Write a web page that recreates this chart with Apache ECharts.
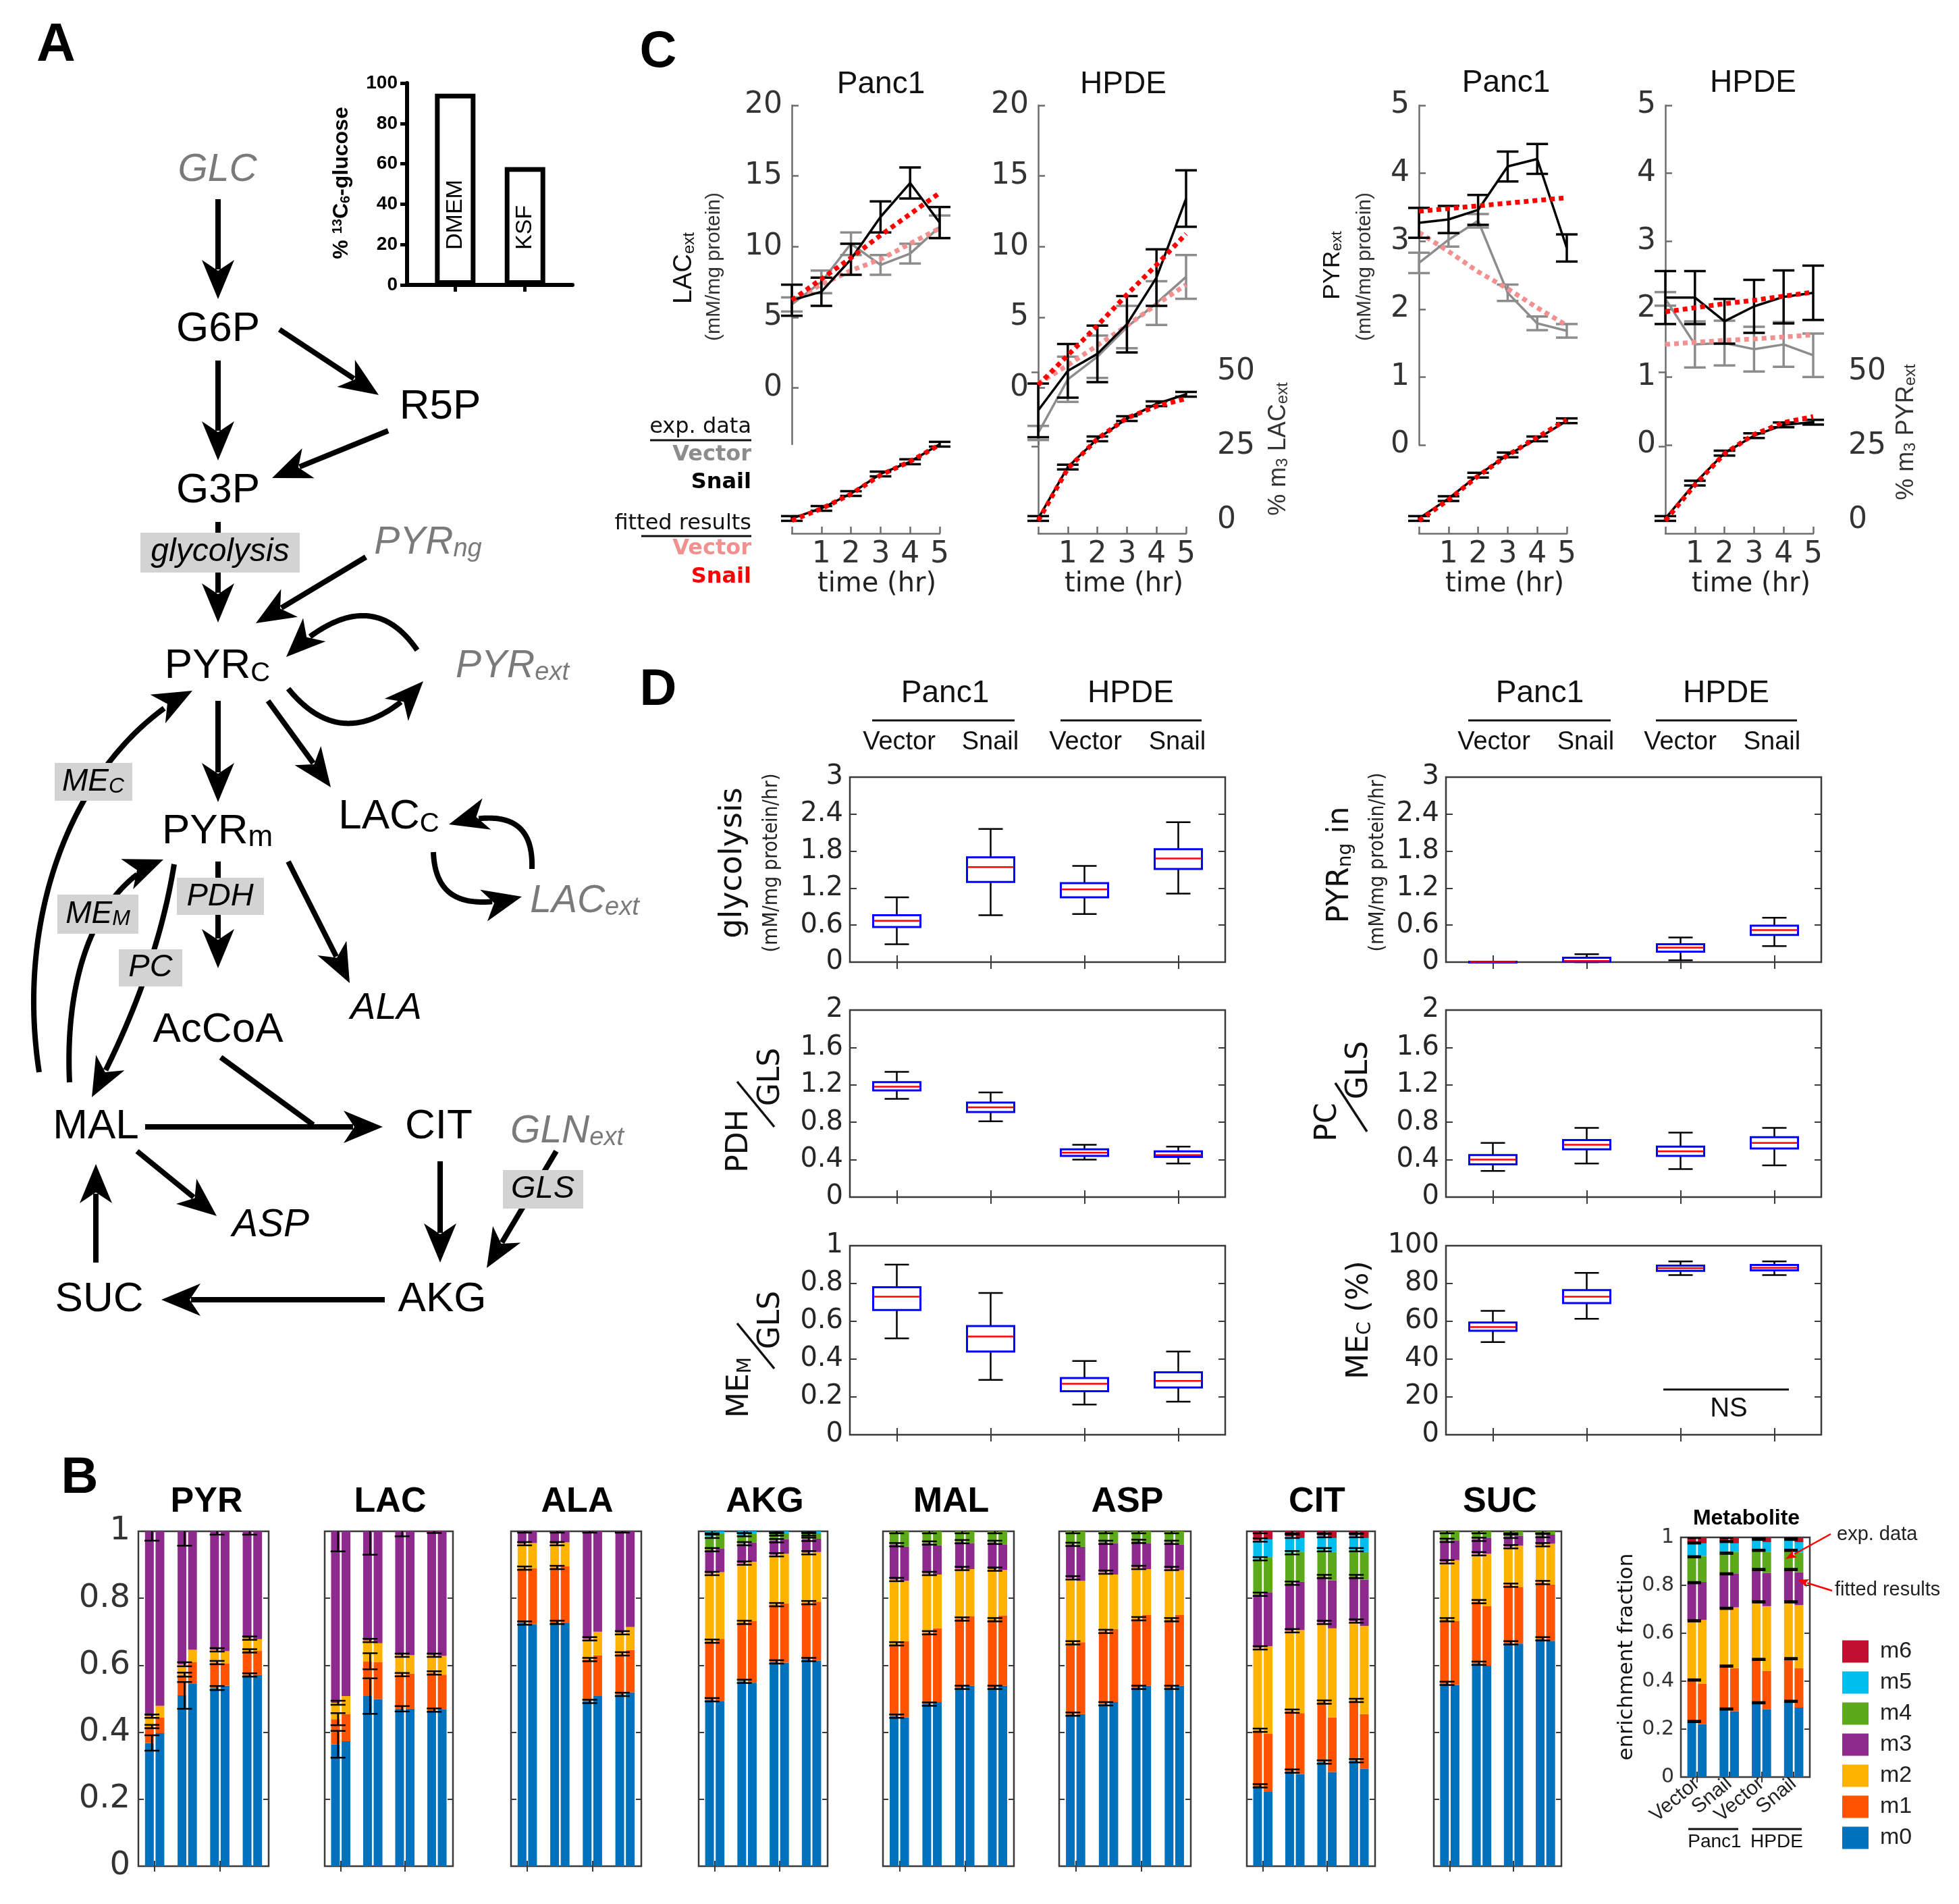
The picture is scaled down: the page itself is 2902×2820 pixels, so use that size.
<!DOCTYPE html>
<html><head><meta charset="utf-8">
<script src="https://cdn.jsdelivr.net/npm/echarts@6/dist/echarts.min.js"></script>
<style>html,body{margin:0;padding:0;background:#fff;overflow:hidden}#c{width:2902px;height:2820px}</style>
</head><body><div id="c"></div>
<script>
// ================= DATA =================
const glucoseMedia = ['DMEM', 'KSF'];
const glucoseLabeled = [94.7, 58.4];

const timeHr = [0, 1, 2, 3, 4, 5];
// Extracellular lactate (mM/mg protein)
const lacPanc1Vector = [5.9, 7.5, 10.2, 8.7, 9.5, 11.4];
const lacPanc1VectorErr = [0.5, 0.8, 0.8, 0.7, 0.7, 0.8];
const lacPanc1Snail = [6.2, 6.8, 9.1, 12.1, 14.5, 11.7];
const lacPanc1SnailErr = [1.1, 1.0, 1.1, 1.1, 1.1, 1.1];
const lacPanc1VectorFit = [6.2, 7.3, 8.3, 9.1, 10.2, 11.3];
const lacPanc1SnailFit = [6.2, 7.7, 9.2, 10.8, 12.3, 13.8];
const lacHpdeVector = [-3.2, 0.6, 2.2, 4.3, 6.0, 7.85];
const lacHpdeVectorErr = [0.5, 1.6, 1.5, 1.5, 1.55, 1.55];
const lacHpdeSnail = [-1.6, 1.2, 2.4, 4.5, 7.8, 13.4];
const lacHpdeSnailErr = [1.9, 1.9, 2.0, 2.0, 2.0, 2.0];
const lacHpdeVectorFit = [0.3, 1.6, 3.0, 4.4, 5.9, 7.3];
const lacHpdeSnailFit = [0.2, 2.3, 4.4, 6.6, 8.7, 10.9];
// Extracellular pyruvate
const pyrPanc1Vector = [2.68, 3.02, 3.30, 2.24, 1.79, 1.68];
const pyrPanc1VectorErr = [0.15, 0.10, 0.10, 0.12, 0.10, 0.10];
const pyrPanc1Snail = [3.27, 3.32, 3.46, 4.10, 4.21, 2.90];
const pyrPanc1SnailErr = [0.22, 0.20, 0.22, 0.22, 0.22, 0.20];
const pyrPanc1VectorFit = [3.13, 2.85, 2.55, 2.30, 2.02, 1.76];
const pyrPanc1SnailFit = [3.44, 3.48, 3.52, 3.56, 3.60, 3.64];
const pyrHpdeVector = [2.15, 1.48, 1.50, 1.41, 1.48, 1.32];
const pyrHpdeVectorErr = [0.10, 0.34, 0.33, 0.33, 0.33, 0.32];
const pyrHpdeSnail = [2.17, 2.17, 1.82, 2.04, 2.18, 2.24];
const pyrHpdeSnailErr = [0.39, 0.39, 0.33, 0.39, 0.39, 0.40];
const pyrHpdeVectorFit = [1.48, 1.51, 1.54, 1.56, 1.59, 1.62];
const pyrHpdeSnailFit = [1.96, 2.02, 2.08, 2.13, 2.19, 2.25];
// % m3 enrichment
const m3LacPanc1 = [0.7, 4.1, 9.1, 15.7, 19.8, 25.7];
const m3LacPanc1Fit = [0, 4.0, 8.9, 15.3, 19.9, 25.5];
const m3LacHpde = [0.7, 18.0, 27.5, 34.3, 39.3, 42.5];
const m3LacHpdeFit = [0, 17.5, 27.5, 34.5, 38.5, 41.0];
const m3PyrPanc1 = [0.7, 7.4, 15.3, 22.1, 27.5, 33.6];
const m3PyrPanc1Fit = [0, 7.0, 15.0, 22.0, 28.0, 34.0];
const m3PyrHpde = [0.7, 12.6, 22.7, 28.6, 32.2, 33.1];
const m3PyrHpdeFit = [0, 12.0, 22.5, 29.0, 33.0, 35.0];
const m3Err = [0.8, 0.8, 0.8, 0.8, 0.8, 0.8];

// Panel D flux distributions: [min, q1, median, q3, max]
const conditions = ['Panc1 Vector', 'Panc1 Snail', 'HPDE Vector', 'HPDE Snail'];
const glycolysisBox = [[0.29, 0.57, 0.67, 0.76, 1.05], [0.76, 1.30, 1.54, 1.70, 2.16], [0.78, 1.05, 1.18, 1.28, 1.56], [1.11, 1.51, 1.68, 1.83, 2.27]];
const pdhGlsBox = [[1.05, 1.14, 1.18, 1.23, 1.34], [0.81, 0.91, 0.96, 1.01, 1.12], [0.40, 0.44, 0.475, 0.51, 0.56], [0.36, 0.43, 0.45, 0.49, 0.54]];
const memGlsBox = [[0.51, 0.66, 0.73, 0.78, 0.90], [0.29, 0.44, 0.52, 0.575, 0.75], [0.16, 0.23, 0.27, 0.30, 0.39], [0.175, 0.25, 0.285, 0.33, 0.44]];
const pyrNgBox = [[0, 0, 0.002, 0.005, 0.008], [0, 0.005, 0.02, 0.07, 0.13], [0.03, 0.17, 0.235, 0.29, 0.40], [0.26, 0.44, 0.52, 0.59, 0.72]];
const pcGlsBox = [[0.28, 0.35, 0.40, 0.45, 0.58], [0.36, 0.51, 0.56, 0.61, 0.74], [0.30, 0.44, 0.49, 0.54, 0.69], [0.34, 0.52, 0.58, 0.64, 0.74]];
const meCBox = [[49, 55, 57, 59.4, 65.5], [61.3, 69.6, 73, 76.5, 85.6], [84.5, 86.7, 88.1, 89.5, 91.7], [84.5, 87, 88.3, 89.8, 91.7]];

// Panel B isotopologue fractions (rows: conditions, columns: m0..mN)
const isoNames = ['m0', 'm1', 'm2', 'm3', 'm4', 'm5', 'm6'];
const pyrExp = [[0.368, 0.049, 0.031, 0.552], [0.510, 0.062, 0.031, 0.397], [0.532, 0.076, 0.038, 0.354], [0.571, 0.072, 0.038, 0.319]];
const pyrFit = [[0.397, 0.047, 0.035, 0.521], [0.546, 0.064, 0.036, 0.354], [0.539, 0.066, 0.037, 0.358], [0.571, 0.072, 0.035, 0.322]];
const pyrErr = [[0.023, 0.005, 0.005, 0.028], [0.040, 0.006, 0.006, 0.043], [0.006, 0.005, 0.005, 0.010], [0.005, 0.005, 0.005, 0.010]];
const lacExp = [[0.364, 0.075, 0.049, 0.512], [0.508, 0.104, 0.062, 0.326], [0.470, 0.102, 0.058, 0.370], [0.466, 0.111, 0.053, 0.370]];
const lacFit = [[0.373, 0.081, 0.054, 0.492], [0.499, 0.111, 0.056, 0.334], [0.470, 0.105, 0.055, 0.370], [0.468, 0.104, 0.056, 0.372]];
const lacErr = [[0.040, 0.018, 0.006, 0.060], [0.053, 0.024, 0.005, 0.070], [0.008, 0.005, 0.005, 0.015], [0.005, 0.005, 0.005, 0.005]];
const alaExp = [[0.726, 0.164, 0.073, 0.037], [0.728, 0.164, 0.071, 0.037], [0.492, 0.125, 0.062, 0.321], [0.513, 0.121, 0.063, 0.303]];
const alaFit = [[0.723, 0.167, 0.075, 0.035], [0.726, 0.170, 0.071, 0.033], [0.508, 0.122, 0.070, 0.300], [0.519, 0.127, 0.068, 0.286]];
const alaErr = [[0.005, 0.005, 0.005, 0.004], [0.005, 0.005, 0.005, 0.004], [0.005, 0.005, 0.005, 0.004], [0.005, 0.005, 0.005, 0.004]];
const akgExp = [[0.497, 0.175, 0.202, 0.071, 0.040, 0.015], [0.552, 0.176, 0.177, 0.058, 0.027, 0.010], [0.610, 0.171, 0.149, 0.042, 0.020, 0.008], [0.617, 0.170, 0.149, 0.040, 0.016, 0.008]];
const akgFit = [[0.492, 0.187, 0.199, 0.071, 0.043, 0.008], [0.548, 0.184, 0.177, 0.058, 0.025, 0.008], [0.608, 0.177, 0.148, 0.043, 0.018, 0.006], [0.614, 0.176, 0.148, 0.040, 0.016, 0.006]];
const akgErr = [[0.005, 0.005, 0.005, 0.005, 0.005, 0.006], [0.005, 0.005, 0.005, 0.005, 0.005, 0.006], [0.005, 0.005, 0.005, 0.005, 0.005, 0.006], [0.005, 0.005, 0.005, 0.005, 0.005, 0.006]];
const malExp = [[0.448, 0.216, 0.192, 0.104, 0.040], [0.484, 0.213, 0.177, 0.091, 0.035], [0.534, 0.204, 0.151, 0.080, 0.031], [0.534, 0.202, 0.151, 0.080, 0.033]];
const malFit = [[0.444, 0.228, 0.180, 0.102, 0.046], [0.490, 0.220, 0.161, 0.087, 0.042], [0.539, 0.208, 0.140, 0.078, 0.035], [0.539, 0.210, 0.136, 0.076, 0.039]];
const malErr = [[0.005, 0.005, 0.005, 0.005, 0.006], [0.005, 0.005, 0.005, 0.005, 0.006], [0.005, 0.005, 0.005, 0.005, 0.006], [0.005, 0.005, 0.005, 0.005, 0.006]];
const aspExp = [[0.454, 0.213, 0.194, 0.100, 0.039], [0.485, 0.216, 0.177, 0.089, 0.033], [0.534, 0.205, 0.153, 0.078, 0.030], [0.534, 0.202, 0.153, 0.078, 0.033]];
const aspFit = [[0.454, 0.215, 0.183, 0.102, 0.046], [0.490, 0.218, 0.163, 0.094, 0.035], [0.539, 0.211, 0.137, 0.078, 0.035], [0.539, 0.211, 0.134, 0.076, 0.040]];
const aspErr = [[0.005, 0.005, 0.005, 0.005, 0.006], [0.005, 0.005, 0.005, 0.005, 0.006], [0.005, 0.005, 0.005, 0.005, 0.006], [0.005, 0.005, 0.005, 0.005, 0.006]];
const citExp = [[0.240, 0.166, 0.246, 0.160, 0.106, 0.056, 0.026], [0.284, 0.179, 0.240, 0.142, 0.091, 0.049, 0.015], [0.311, 0.179, 0.238, 0.137, 0.080, 0.042, 0.013], [0.315, 0.180, 0.237, 0.133, 0.080, 0.042, 0.013]];
const citFit = [[0.222, 0.173, 0.262, 0.161, 0.105, 0.053, 0.024], [0.275, 0.182, 0.248, 0.144, 0.090, 0.041, 0.020], [0.281, 0.163, 0.266, 0.144, 0.084, 0.042, 0.020], [0.291, 0.163, 0.263, 0.139, 0.082, 0.042, 0.020]];
const citErr = [[0.005, 0.005, 0.005, 0.005, 0.005, 0.005, 0.006], [0.005, 0.005, 0.005, 0.005, 0.005, 0.005, 0.006], [0.005, 0.005, 0.005, 0.005, 0.005, 0.005, 0.006], [0.005, 0.005, 0.005, 0.005, 0.005, 0.005, 0.006]];
const sucExp = [[0.546, 0.190, 0.173, 0.064, 0.027], [0.606, 0.184, 0.143, 0.043, 0.024], [0.667, 0.172, 0.115, 0.031, 0.015], [0.679, 0.168, 0.113, 0.027, 0.013]];
const sucFit = [[0.541, 0.191, 0.182, 0.058, 0.028], [0.599, 0.177, 0.157, 0.047, 0.020], [0.665, 0.169, 0.123, 0.030, 0.013], [0.673, 0.168, 0.122, 0.027, 0.010]];
const sucErr = [[0.005, 0.005, 0.005, 0.005, 0.006], [0.005, 0.005, 0.005, 0.005, 0.006], [0.005, 0.005, 0.005, 0.005, 0.006], [0.005, 0.005, 0.005, 0.005, 0.006]];
const metabExp = [[0.232, 0.173, 0.247, 0.159, 0.108, 0.058, 0.023], [0.284, 0.179, 0.241, 0.144, 0.086, 0.049, 0.017], [0.310, 0.181, 0.240, 0.135, 0.080, 0.046, 0.008], [0.316, 0.178, 0.237, 0.135, 0.080, 0.046, 0.008]];
const metabFit = [[0.221, 0.169, 0.266, 0.158, 0.109, 0.052, 0.025], [0.275, 0.180, 0.253, 0.142, 0.090, 0.035, 0.025], [0.282, 0.161, 0.270, 0.139, 0.088, 0.040, 0.020], [0.290, 0.165, 0.262, 0.138, 0.082, 0.043, 0.020]];
const metabErr = [[0.003, 0.003, 0.003, 0.003, 0.003, 0.003, 0.003], [0.003, 0.003, 0.003, 0.003, 0.003, 0.003, 0.003], [0.003, 0.003, 0.003, 0.003, 0.003, 0.003, 0.003], [0.003, 0.003, 0.003, 0.003, 0.003, 0.003, 0.003]];
const metabTickLabels = ['Vector', 'Snail', 'Vector', 'Snail'];

// ================= STYLE =================
const FA = '"Liberation Sans", Arial, Helvetica, sans-serif';
const FD = '"DejaVu Sans", Verdana, sans-serif';
const FDC = '"DejaVu Sans Condensed", "DejaVu Sans", sans-serif';
const isoColors = ['#0072BD', '#FF5300', '#FFB300', '#8E2A8E', '#5CAA1A', '#00BFEF', '#C00F2F'];
const GREY = '#8c8c8c', BLACK = '#000', RED = '#ff0000', PINK = '#f29090';
const AX = '#6e6e6e';

const grid = [], xAxis = [], yAxis = [], series = [], graphics = [];
function G(l, t, w, h, show) { grid.push({left: l, top: t, width: w, height: h, show: !!show, borderColor: '#3a3a3a', borderWidth: 2.5, backgroundColor: 'transparent', containLabel: false}); return grid.length - 1; }
function XA(o) { xAxis.push(o); return xAxis.length - 1; }
function YA(o) { yAxis.push(o); return yAxis.length - 1; }

// ================= PANEL A inset bar =================
(function () {
  const gi = G(603, 123, 245, 299, false);
  const xi = XA({gridIndex: gi, type: 'value', min: 0.31, max: 2.68,
    axisLine: {show: true, onZero: false, lineStyle: {color: '#000', width: 6}},
    axisTick: {show: true, customValues: [1, 2], length: 10, lineStyle: {color: '#000', width: 5}},
    axisLabel: {show: false}, splitLine: {show: false}});
  const yi = YA({gridIndex: gi, type: 'value', min: 0, max: 100, interval: 20,
    axisLine: {show: true, lineStyle: {color: '#000', width: 6}},
    axisTick: {show: true, length: 10, lineStyle: {color: '#000', width: 5}},
    axisLabel: {fontFamily: FA, fontWeight: 'bold', fontSize: 28, color: '#000', margin: 14},
    splitLine: {show: false}});
  series.push({type: 'bar', xAxisIndex: xi, yAxisIndex: yi, barWidth: 60, silent: true,
    data: glucoseLabeled.map((v, i) => [i + 1, v]),
    itemStyle: {color: '#fff', borderColor: '#000', borderWidth: 7},
    label: {show: true, position: 'insideBottom', distance: 52, rotate: 90, align: 'left', verticalAlign: 'middle',
      fontFamily: FA, fontSize: 34, color: '#000', formatter: p => glucoseMedia[p.dataIndex]}});
})();

// ================= PANEL C =================
function timeErr(xi, yi, vals, errs, color, z, half) {
  return {type: 'custom', xAxisIndex: xi, yAxisIndex: yi, z: z, silent: true, clip: false,
    data: timeHr.map((t, i) => [t, vals[i], errs[i]]), encode: {x: 0, y: 1},
    renderItem: (p, api) => {
      const x = api.value(0), v = api.value(1), e = api.value(2);
      const a = api.coord([x, v + e]), b = api.coord([x, v - e]);
      const st = {stroke: color, lineWidth: 3.5};
      const h = half || 16;
      return {type: 'group', children: [
        {type: 'line', shape: {x1: a[0], y1: a[1], x2: b[0], y2: b[1]}, style: st},
        {type: 'line', shape: {x1: a[0] - h, y1: a[1], x2: a[0] + h, y2: a[1]}, style: st},
        {type: 'line', shape: {x1: b[0] - h, y1: b[1], x2: b[0] + h, y2: b[1]}, style: st}]};
    }};
}
function addTimeSeries(xi, yi, s) {
  series.push({type: 'line', xAxisIndex: xi, yAxisIndex: yi, data: timeHr.map((t, i) => [t, s.v[i]]),
    symbol: 'none', silent: true, z: s.z, lineStyle: {color: s.c, width: s.w, type: s.dash || 'solid', cap: 'butt'}});
  if (s.e) series.push(timeErr(xi, yi, s.v, s.e, s.c, s.z));
}
function panelCTime(left, top, height, ymin, ymax, ticks, sets) {
  const gi = G(left, top, 219, height, false);
  const xi = XA({gridIndex: gi, type: 'value', min: 0, max: 5, show: false});
  const yi = YA({gridIndex: gi, type: 'value', min: ymin, max: ymax,
    axisLine: {show: true, lineStyle: {color: AX, width: 2.5}},
    axisTick: {show: true, inside: true, length: 10, customValues: ticks, lineStyle: {color: AX, width: 2.5}},
    axisLabel: {show: true, customValues: ticks, fontFamily: FD, fontSize: 44, color: '#333', margin: 14},
    splitLine: {show: false}});
  sets.forEach(s => addTimeSeries(xi, yi, s));
}
function panelCEnrich(left, exp, fit, rightOffset) {
  const gi = G(left, 551, 219, 220, false);
  const xi = XA({gridIndex: gi, type: 'value', min: 0, max: 5, interval: 1, offset: 19, position: 'bottom',
    axisLine: {show: true, onZero: false, lineStyle: {color: AX, width: 2.5}},
    axisTick: {show: true, inside: true, length: 10, lineStyle: {color: AX, width: 2.5}},
    axisLabel: {fontFamily: FD, fontSize: 44, color: '#333', margin: 10, formatter: v => (v === 0 ? '' : String(v))},
    splitLine: {show: false}});
  const yi = YA({gridIndex: gi, type: 'value', min: 0, max: 50, interval: 25, position: 'right',
    offset: rightOffset || 0, show: rightOffset != null,
    axisLine: {show: true, lineStyle: {color: AX, width: 2.5}},
    axisTick: {show: true, inside: true, length: 10, lineStyle: {color: AX, width: 2.5}},
    axisLabel: {fontFamily: FD, fontSize: 44, color: '#333', margin: 8},
    splitLine: {show: false}});
  addTimeSeries(xi, yi, {v: exp, e: m3Err, c: BLACK, w: 3.5, z: 4});
  addTimeSeries(xi, yi, {v: fit, c: RED, w: 7, dash: [7, 6], z: 5});
}
panelCTime(1173, 156, 502, -4, 20, [0, 5, 10, 15, 20], [
  {v: lacPanc1Vector, e: lacPanc1VectorErr, c: GREY, w: 3.5, z: 2},
  {v: lacPanc1VectorFit, c: PINK, w: 7, dash: [7, 6], z: 3},
  {v: lacPanc1Snail, e: lacPanc1SnailErr, c: BLACK, w: 3.5, z: 4},
  {v: lacPanc1SnailFit, c: RED, w: 7, dash: [7, 6], z: 5}]);
panelCTime(1538, 156, 502, -4, 20, [0, 5, 10, 15, 20], [
  {v: lacHpdeVector, e: lacHpdeVectorErr, c: GREY, w: 3.5, z: 2},
  {v: lacHpdeVectorFit, c: PINK, w: 7, dash: [7, 6], z: 3},
  {v: lacHpdeSnail, e: lacHpdeSnailErr, c: BLACK, w: 3.5, z: 4},
  {v: lacHpdeSnailFit, c: RED, w: 7, dash: [7, 6], z: 5}]);
panelCTime(2102, 156, 503, 0, 5, [0, 1, 2, 3, 4, 5], [
  {v: pyrPanc1Vector, e: pyrPanc1VectorErr, c: GREY, w: 3.5, z: 2},
  {v: pyrPanc1VectorFit, c: PINK, w: 7, dash: [7, 6], z: 3},
  {v: pyrPanc1Snail, e: pyrPanc1SnailErr, c: BLACK, w: 3.5, z: 4},
  {v: pyrPanc1SnailFit, c: RED, w: 7, dash: [7, 6], z: 5}]);
panelCTime(2467, 156, 503, 0, 5, [0, 1, 2, 3, 4, 5], [
  {v: pyrHpdeVector, e: pyrHpdeVectorErr, c: GREY, w: 3.5, z: 2},
  {v: pyrHpdeVectorFit, c: PINK, w: 7, dash: [7, 6], z: 3},
  {v: pyrHpdeSnail, e: pyrHpdeSnailErr, c: BLACK, w: 3.5, z: 4},
  {v: pyrHpdeSnailFit, c: RED, w: 7, dash: [7, 6], z: 5}]);
panelCEnrich(1173, m3LacPanc1, m3LacPanc1Fit, null);
panelCEnrich(1538, m3LacHpde, m3LacHpdeFit, 38);
panelCEnrich(2102, m3PyrPanc1, m3PyrPanc1Fit, null);
panelCEnrich(2467, m3PyrHpde, m3PyrHpdeFit, 44);

// ================= PANEL D =================
function boxRender(p, api) {
  const i = api.value(0);
  const pts = [1, 2, 3, 4, 5].map(k => api.coord([i, api.value(k)]));
  const x = pts[0][0];
  const yMin = pts[0][1], yQ1 = pts[1][1], yMed = pts[2][1], yQ3 = pts[3][1], yMax = pts[4][1];
  const bw = 70, cw = 18;
  const wk = {stroke: '#000', lineWidth: 2.5};
  return {type: 'group', children: [
    {type: 'line', shape: {x1: x, y1: yQ3, x2: x, y2: yMax}, style: wk},
    {type: 'line', shape: {x1: x, y1: yQ1, x2: x, y2: yMin}, style: wk},
    {type: 'line', shape: {x1: x - cw, y1: yMax, x2: x + cw, y2: yMax}, style: wk},
    {type: 'line', shape: {x1: x - cw, y1: yMin, x2: x + cw, y2: yMin}, style: wk},
    {type: 'rect', shape: {x: x - bw / 2, y: yQ3, width: bw, height: Math.max(yQ1 - yQ3, 1)}, style: {fill: '#fff', stroke: '#0000ff', lineWidth: 3}},
    {type: 'line', shape: {x1: x - bw / 2 + 1, y1: yMed, x2: x + bw / 2 - 1, y2: yMed}, style: {stroke: '#ff0000', lineWidth: 2.5}}]};
}
function boxChart(left, top, height, ymax, interval, data) {
  const gi = G(left, top, 556, height, true);
  const tick = {show: true, inside: true, length: 10, alignWithLabel: true, lineStyle: {color: '#3a3a3a', width: 2}};
  const xi = XA({gridIndex: gi, type: 'category', data: conditions, position: 'bottom', axisLine: {show: false}, axisTick: tick, axisLabel: {show: false}, splitLine: {show: false}});
  XA({gridIndex: gi, type: 'category', data: conditions, position: 'top', axisLine: {show: false}, axisTick: tick, axisLabel: {show: false}, splitLine: {show: false}});
  const ytick = {show: true, inside: true, length: 10, lineStyle: {color: '#3a3a3a', width: 2}};
  const yi = YA({gridIndex: gi, type: 'value', min: 0, max: ymax, interval: interval, axisLine: {show: false}, axisTick: ytick,
    axisLabel: {fontFamily: FD, fontSize: 40, color: '#262626', margin: 10, formatter: v => String(+v.toFixed(1))}, splitLine: {show: false}});
  YA({gridIndex: gi, type: 'value', min: 0, max: ymax, interval: interval, position: 'right', axisLine: {show: false}, axisTick: ytick, axisLabel: {show: false}, splitLine: {show: false}});
  series.push({type: 'custom', xAxisIndex: xi, yAxisIndex: yi, silent: true, z: 5,
    data: data.map((b, i) => [i, b[0], b[1], b[2], b[3], b[4]]), encode: {x: 0, y: [1, 2, 3, 4, 5]}, renderItem: boxRender});
}
boxChart(1259, 1151, 274, 3, 0.6, glycolysisBox);
boxChart(1259, 1496, 277, 2, 0.4, pdhGlsBox);
boxChart(1259, 1845, 280, 1, 0.2, memGlsBox);
boxChart(2142, 1151, 274, 3, 0.6, pyrNgBox);
boxChart(2142, 1496, 277, 2, 0.4, pcGlsBox);
boxChart(2142, 1845, 280, 100, 20, meCBox);

// ================= PANEL B =================
function isoPanel(left, top, width, height, exp, fit, err, opts) {
  const gi = G(left, top, width, height, true);
  const tick = {show: true, inside: true, length: 8, alignWithLabel: true, lineStyle: {color: '#3a3a3a', width: 2}};
  const xi = XA({gridIndex: gi, type: 'category', data: conditions, position: 'bottom', axisLine: {show: false}, axisTick: tick,
    axisLabel: opts.xLabels ? {show: true, interval: 0, rotate: 40, fontFamily: FA, fontSize: 30, color: '#222', margin: 6, formatter: (v, i) => metabTickLabels[i]} : {show: false},
    splitLine: {show: false}});
  XA({gridIndex: gi, type: 'category', data: conditions, position: 'top', axisLine: {show: false}, axisTick: tick, axisLabel: {show: false}, splitLine: {show: false}});
  const ytick = {show: true, inside: true, length: 8, lineStyle: {color: '#3a3a3a', width: 2}};
  const yi = YA({gridIndex: gi, type: 'value', min: 0, max: 1, interval: 0.2, axisLine: {show: false}, axisTick: ytick,
    axisLabel: opts.yLabels ? {show: true, fontFamily: FD, fontSize: opts.yFont, color: '#333', margin: opts.yMargin, formatter: v => String(+v.toFixed(1))} : {show: false},
    splitLine: {show: false}});
  YA({gridIndex: gi, type: 'value', min: 0, max: 1, interval: 0.2, position: 'right', axisLine: {show: false}, axisTick: ytick, axisLabel: {show: false}, splitLine: {show: false}});
  const n = exp[0].length;
  for (let k = 0; k < n; k++) {
    series.push({name: isoNames[k], type: 'bar', stack: 'e' + gi, xAxisIndex: xi, yAxisIndex: yi, barWidth: 13, barGap: '20%',
      data: exp.map(r => r[k]), itemStyle: {color: isoColors[k]}, silent: true, z: 2});
    series.push({name: isoNames[k], type: 'bar', stack: 'f' + gi, xAxisIndex: xi, yAxisIndex: yi, barWidth: 13, barGap: '20%',
      data: fit.map(r => r[k]), itemStyle: {color: isoColors[k]}, silent: true, z: 2});
  }
  const ed = [];
  exp.forEach((row, c) => { let cum = 0; row.forEach((f, k) => { cum += f; ed.push([c, Math.min(cum, 1), err[c][k]]); }); });
  const half = opts.capHalf || 11;
  series.push({type: 'custom', xAxisIndex: xi, yAxisIndex: yi, silent: true, z: 6, clip: true, data: ed, encode: {x: 0, y: 1},
    renderItem: (p, api) => {
      const c = api.value(0), v = api.value(1), e = api.value(2);
      const a = api.coord([c, v + e]), b = api.coord([c, v - e]);
      const x = a[0] - 4;
      const st = {stroke: '#000', lineWidth: 2.5};
      return {type: 'group', children: [
        {type: 'line', shape: {x1: x, y1: a[1], x2: x, y2: b[1]}, style: st},
        {type: 'line', shape: {x1: x - half, y1: a[1], x2: x + half, y2: a[1]}, style: st},
        {type: 'line', shape: {x1: x - half, y1: b[1], x2: x + half, y2: b[1]}, style: st}]};
    }});
}
const BT = 2268, BH = 496;
isoPanel(205, BT, 193, BH, pyrExp, pyrFit, pyrErr, {yLabels: true, yFont: 48, yMargin: 12});
isoPanel(481, BT, 190, BH, lacExp, lacFit, lacErr, {});
isoPanel(757, BT, 193, BH, alaExp, alaFit, alaErr, {});
isoPanel(1035, BT, 191, BH, akgExp, akgFit, akgErr, {});
isoPanel(1308, BT, 194, BH, malExp, malFit, malErr, {});
isoPanel(1569, BT, 195, BH, aspExp, aspFit, aspErr, {});
isoPanel(1847, BT, 190, BH, citExp, citFit, citErr, {});
isoPanel(2124, BT, 189, BH, sucExp, sucFit, sucErr, {});
isoPanel(2490, 2277, 191, 355, metabExp, metabFit, metabErr, {yLabels: true, yFont: 30, yMargin: 10, xLabels: true, capHalf: 10});

// ================= GRAPHICS (diagram + annotations) =================
function rich(size, sub, color, style, family, weight) {
  const base = {fill: color, color: color, fontStyle: style || 'normal', fontFamily: family || FA, fontWeight: weight || 'normal'};
  return {
    a: Object.assign({fontSize: size, lineHeight: size}, base),
    s: Object.assign({fontSize: sub, lineHeight: Math.round(sub * 0.5), verticalAlign: 'bottom'}, base),
    p: Object.assign({fontSize: sub, lineHeight: Math.round(sub * 0.5), verticalAlign: 'top'}, base)};
}
function txt(x, y, text, o) {
  o = o || {};
  const st = {text: text, fill: o.color || '#000', fontSize: o.size || 40, fontFamily: o.family || FA,
    fontWeight: o.weight || 'normal', fontStyle: o.style || 'normal',
    align: o.align || 'center', textAlign: o.align || 'center', verticalAlign: 'middle', textVerticalAlign: 'middle'};
  if (o.rich) st.rich = o.rich;
  graphics.push({type: 'text', x: x, y: y, rotation: o.rot || 0, z: 60, silent: true, style: st});
}
function seg(x1, y1, x2, y2, color, w, z) {
  graphics.push({type: 'line', z: z || 40, silent: true, shape: {x1, y1, x2, y2}, style: {stroke: color || '#000', lineWidth: w || 3, lineCap: 'butt'}});
}
function box(x1, y1, x2, y2) {
  graphics.push({type: 'rect', z: 45, silent: true, shape: {x: x1, y: y1, width: x2 - x1, height: y2 - y1}, style: {fill: '#d3d3d3'}});
}
const HL = 58, HW = 24, HN = 16, LW = 8;
function head(x, y, ang, color, len, hw, notch) {
  len = len || HL; hw = hw || HW; notch = notch == null ? HN : notch;
  const c = Math.cos(ang), s = Math.sin(ang);
  const bx = x - c * len, by = y - s * len;
  graphics.push({type: 'polygon', z: 42, silent: true, shape: {points: [[x, y], [bx - s * hw, by + c * hw], [x - c * (len - notch), y - s * (len - notch)], [bx + s * hw, by - c * hw]]}, style: {fill: color || '#000'}});
}
function arrow(x1, y1, x2, y2, o) {
  o = o || {};
  const len = o.len || HL, notch = o.notch == null ? HN : o.notch;
  const ang = Math.atan2(y2 - y1, x2 - x1);
  const cut = len - notch + 2;
  seg(x1, y1, x2 - Math.cos(ang) * cut, y2 - Math.sin(ang) * cut, o.color || '#000', o.w || LW, 41);
  head(x2, y2, ang, o.color || '#000', len, o.hw || HW, notch);
}
function curveArrow(p0, c1, c2, p3) {
  const pts = [];
  const cut = HL - HN + 2;
  for (let i = 0; i <= 80; i++) {
    const t = i / 80, u = 1 - t;
    const x = u * u * u * p0[0] + 3 * u * u * t * c1[0] + 3 * u * t * t * c2[0] + t * t * t * p3[0];
    const y = u * u * u * p0[1] + 3 * u * u * t * c1[1] + 3 * u * t * t * c2[1] + t * t * t * p3[1];
    if (Math.hypot(x - p3[0], y - p3[1]) >= cut) pts.push([x, y]);
  }
  graphics.push({type: 'polyline', z: 41, silent: true, shape: {points: pts}, style: {stroke: '#000', lineWidth: LW, fill: null, lineJoin: 'round'}});
  head(p3[0], p3[1], Math.atan2(p3[1] - c2[1], p3[0] - c2[0]), '#000');
}
function quadArrow(p0, c, p2) {
  curveArrow(p0, [p0[0] + 2 / 3 * (c[0] - p0[0]), p0[1] + 2 / 3 * (c[1] - p0[1])], [p2[0] + 2 / 3 * (c[0] - p2[0]), p2[1] + 2 / 3 * (c[1] - p2[1])], p2);
}

// panel letters
txt(83, 68, 'A', {size: 80, weight: 'bold'});
txt(975, 78, 'C', {size: 76, weight: 'bold'});
txt(975, 1023, 'D', {size: 76, weight: 'bold'});
txt(118, 2190, 'B', {size: 76, weight: 'bold'});

// --- Panel A diagram ---
const GT = '#7a7a7a';
arrow(323, 295, 323, 443);
arrow(414, 488, 561, 585);
arrow(323, 534, 323, 682);
arrow(575, 638, 403, 708);
arrow(323, 773, 323, 922);
arrow(542, 825, 379, 923);
quadArrow([618, 963], [545, 856], [424, 973]);
quadArrow([427, 1020], [515, 1128], [627, 1009]);
arrow(323, 1038, 323, 1188);
arrow(397, 1038, 490, 1166);
curveArrow([58, 1588], [20, 1340], [120, 1110], [285, 1023]);
curveArrow([103, 1603], [95, 1430], [150, 1310], [242, 1273]);
quadArrow([258, 1280], [231, 1447], [136, 1625]);
arrow(323, 1276, 323, 1434);
arrow(427, 1276, 518, 1456);
curveArrow([642, 1262], [645, 1340], [700, 1345], [773, 1328]);
curveArrow([788, 1287], [790, 1225], [760, 1195], [665, 1221]);
seg(327, 1566, 464, 1666, '#000', LW, 41);
arrow(215, 1669, 567, 1669);
arrow(652, 1720, 652, 1870);
arrow(824, 1705, 721, 1878);
arrow(203, 1705, 321, 1801);
arrow(570, 1925, 239, 1925);
arrow(142, 1870, 142, 1724);

box(208, 789, 444, 848); txt(326, 818, 'glycolysis', {size: 48, style: 'italic'});
box(81, 1130, 196, 1186); txt(138, 1158, '{a|ME}{s|C}', {rich: rich(46, 32, '#000', 'italic')});
box(85, 1325, 205, 1383); txt(145, 1354, '{a|ME}{s|M}', {rich: rich(46, 32, '#000', 'italic')});
box(262, 1300, 391, 1355); txt(326, 1328, 'PDH', {size: 47, style: 'italic'});
box(176, 1406, 270, 1461); txt(223, 1433, 'PC', {size: 47, style: 'italic'});
box(745, 1733, 864, 1790); txt(804, 1761, 'GLS', {size: 47, style: 'italic'});

txt(322, 252, 'GLC', {size: 57, style: 'italic', color: GT});
txt(323, 488, 'G6P', {size: 62});
txt(652, 603, 'R5P', {size: 62});
txt(323, 727, 'G3P', {size: 62});
txt(634, 804, '{a|PYR}{s|ng}', {rich: rich(57, 38, GT, 'italic')});
txt(322, 987, '{a|PYR}{s|C}', {rich: rich(62, 40, '#000')});
txt(759, 987, '{a|PYR}{s|ext}', {rich: rich(57, 38, GT, 'italic')});
txt(322, 1232, '{a|PYR}{s|m}', {rich: rich(62, 44, '#000')});
txt(576, 1210, '{a|LAC}{s|C}', {rich: rich(62, 40, '#000')});
txt(866, 1335, '{a|LAC}{s|ext}', {rich: rich(57, 38, GT, 'italic')});
txt(572, 1493, 'ALA', {size: 56, style: 'italic'});
txt(323, 1526, 'AcCoA', {size: 62});
txt(142, 1669, 'MAL', {size: 62});
txt(650, 1669, 'CIT', {size: 62});
txt(840, 1676, '{a|GLN}{s|ext}', {rich: rich(57, 38, GT, 'italic')});
txt(401, 1815, 'ASP', {size: 57, style: 'italic'});
txt(655, 1925, 'AKG', {size: 62});
txt(147, 1925, 'SUC', {size: 62});
txt(506, 271, '{a|% }{p|13}{a|C}{s|6}{a|-glucose}', {rot: Math.PI / 2, rich: rich(32, 20, '#000', 'normal', FA, 'bold')});

// --- Panel C annotations ---
txt(1305, 125, 'Panc1', {size: 46, color: '#111'});
txt(1664, 125, 'HPDE', {size: 46, color: '#111'});
txt(2231, 123, 'Panc1', {size: 46, color: '#111'});
txt(2597, 123, 'HPDE', {size: 46, color: '#111'});
[1299, 1665, 2229, 2594].forEach(x => txt(x, 866, 'time (hr)', {size: 40, family: FD, color: '#222'}));
txt(1014, 397, '{a|LAC}{s|ext}', {rot: Math.PI / 2, rich: rich(38, 24, '#111')});
txt(1058, 395, '(mM/mg protein)', {rot: Math.PI / 2, size: 30, color: '#333'});
txt(1974, 393, '{a|PYR}{s|ext}', {rot: Math.PI / 2, rich: rich(35, 22, '#111')});
txt(2022, 395, '(mM/mg protein)', {rot: Math.PI / 2, size: 30, color: '#333'});
txt(1894, 665, '{a|% m}{s|3}{a| LAC}{s|ext}', {rot: Math.PI / 2, rich: rich(36, 24, '#333')});
txt(2824, 640, '{a|% m}{s|3}{a| PYR}{s|ext}', {rot: Math.PI / 2, rich: rich(36, 24, '#333')});
txt(1113, 633, 'exp. data', {size: 32, family: FD, align: 'right', color: '#111'});
seg(963, 652, 1113, 652, '#111', 3);
txt(1113, 674, 'Vector', {size: 32, family: FD, weight: 'bold', align: 'right', color: GREY});
txt(1113, 715, 'Snail', {size: 32, family: FD, weight: 'bold', align: 'right', color: '#000'});
txt(1113, 776, 'fitted results', {size: 32, family: FD, align: 'right', color: '#111'});
seg(950, 794, 1113, 794, '#111', 3);
txt(1113, 813, 'Vector', {size: 32, family: FD, weight: 'bold', align: 'right', color: PINK});
txt(1113, 855, 'Snail', {size: 32, family: FD, weight: 'bold', align: 'right', color: RED});

// --- Panel D annotations ---
function dHeader(p1, p2, lines, vx) {
  txt(p1, 1027, 'Panc1', {size: 46, color: '#111'});
  txt(p2, 1027, 'HPDE', {size: 46, color: '#111'});
  seg(lines[0], 1067, lines[1], 1067, '#111', 3);
  seg(lines[2], 1067, lines[3], 1067, '#111', 3);
  ['Vector', 'Snail', 'Vector', 'Snail'].forEach((t, i) => txt(vx[i], 1100, t, {size: 38, color: '#111'}));
}
dHeader(1400, 1675, [1292, 1503, 1571, 1780], [1332, 1467, 1608, 1744]);
dHeader(2281, 2557, [2175, 2386, 2453, 2662], [2213, 2349, 2489, 2625]);
txt(1086, 1278, 'glycolysis', {rot: Math.PI / 2, size: 46, family: FD, color: '#111'});
txt(1143, 1278, '(mM/mg protein/hr)', {rot: Math.PI / 2, size: 30, family: FDC, color: '#222'});
txt(1096, 1690, 'PDH', {rot: Math.PI / 2, size: 44, family: FD, color: '#111'});
txt(1143, 1595, 'GLS', {rot: Math.PI / 2, size: 44, family: FD, color: '#111'});
seg(1092, 1602, 1147, 1669, '#111', 3.5);
txt(1097, 2055, '{a|ME}{s|M}', {rot: Math.PI / 2, rich: rich(44, 28, '#111', 'normal', FD)});
txt(1143, 1955, 'GLS', {rot: Math.PI / 2, size: 44, family: FD, color: '#111'});
seg(1092, 1960, 1147, 2027, '#111', 3.5);
txt(1986, 1281, '{a|PYR}{s|ng}{a| in}', {rot: Math.PI / 2, rich: rich(44, 28, '#111', 'normal', FD)});
txt(2041, 1277, '(mM/mg protein/hr)', {rot: Math.PI / 2, size: 30, family: FDC, color: '#222'});
txt(1968, 1662, 'PC', {rot: Math.PI / 2, size: 44, family: FD, color: '#111'});
txt(2014, 1585, 'GLS', {rot: Math.PI / 2, size: 44, family: FD, color: '#111'});
seg(1978, 1604, 2025, 1676, '#111', 3.5);
txt(2015, 1955, '{a|ME}{s|C}{a| (%)}', {rot: Math.PI / 2, rich: rich(44, 28, '#111', 'normal', FD)});
seg(2464, 2058, 2650, 2058, '#111', 3);
txt(2561, 2087, 'NS', {size: 40, color: '#111'});

// --- Panel B annotations ---
[[306, 'PYR'], [578, 'LAC'], [855, 'ALA'], [1133, 'AKG'], [1409, 'MAL'], [1670, 'ASP'], [1951, 'CIT'], [2222, 'SUC']]
  .forEach(d => txt(d[0], 2225, d[1], {size: 52, weight: 'bold'}));
txt(2587, 2249, 'Metabolite', {size: 32, weight: 'bold'});
txt(2410, 2454, 'enrichment fraction', {rot: Math.PI / 2, size: 31, family: FD, color: '#111'});
seg(2501, 2709, 2575, 2709, '#111', 3);
seg(2596, 2709, 2669, 2709, '#111', 3);
txt(2540, 2728, 'Panc1', {size: 28, color: '#111'});
txt(2632, 2728, 'HPDE', {size: 28, color: '#111'});
txt(2721, 2273, 'exp. data', {size: 29, align: 'left', color: '#222'});
txt(2718, 2355, 'fitted results', {size: 29, align: 'left', color: '#222'});
arrow(2712, 2272, 2645, 2309, {color: '#ff0000', w: 2.5, len: 16, hw: 6, notch: 3});
arrow(2714, 2356, 2663, 2340, {color: '#ff0000', w: 2.5, len: 16, hw: 6, notch: 3});

// ================= CHART =================
const chart = echarts.init(document.getElementById('c'), null, {renderer: 'canvas'});
chart.setOption({
  animation: false,
  backgroundColor: '#fff',
  grid: grid, xAxis: xAxis, yAxis: yAxis, series: series,
  legend: {show: true, orient: 'vertical', left: 2724, top: 2424, itemWidth: 39, itemHeight: 33, itemGap: 12,
    icon: 'rect', selectedMode: false, data: ['m6', 'm5', 'm4', 'm3', 'm2', 'm1', 'm0'],
    textStyle: {fontFamily: FA, fontSize: 34, color: '#222', padding: [0, 0, 0, 12]}},
  graphic: {elements: graphics}
});
</script></body></html>
